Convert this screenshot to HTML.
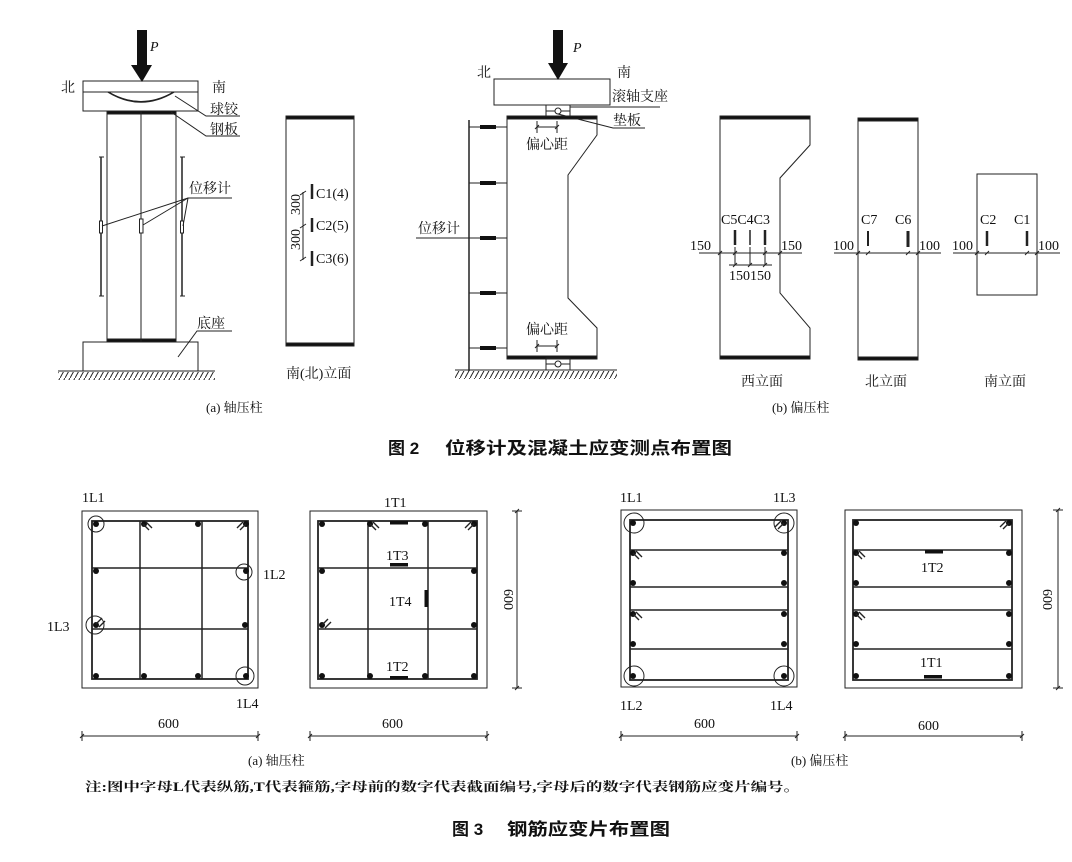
<!DOCTYPE html>
<html><head><meta charset="utf-8"><style>
html,body{margin:0;padding:0;background:#fff;}
svg{display:block;}
text{font-family:"Liberation Serif","Noto Serif CJK SC",serif;fill:#111;}
.cj{font-family:"Liberation Serif","Noto Serif CJK SC",serif;font-size:14px;}
.nm{font-family:"Liberation Serif",serif;font-size:14px;}
.tt{font-family:"Liberation Sans","Noto Sans CJK SC",sans-serif;font-weight:bold;font-size:17px;}
</style></head><body>
<svg width="1072" height="862" viewBox="0 0 1072 862" xmlns="http://www.w3.org/2000/svg">
<defs>
<pattern id="hat" width="5" height="9" patternUnits="userSpaceOnUse">
<line x1="5" y1="0" x2="0" y2="9" stroke="#222" stroke-width="1"/>
</pattern>
</defs>
<g stroke="#222" fill="none" stroke-width="1">
<polygon points="137,30 147,30 147,65 152,65 142,82 131,65 137,65" fill="#111" stroke="none"/>
<rect x="83" y="81" width="115" height="11"/>
<rect x="83" y="92" width="115" height="19"/>
<path d="M108,92 Q141,112 174,92" stroke-width="1.5"/>
<path d="M110,93 Q141,110 172,93"/>
<rect x="107" y="111" width="69" height="231"/>
<rect x="107" y="111" width="69" height="3" fill="#111"/>
<rect x="107" y="339" width="69" height="3" fill="#111"/>
<line x1="141" y1="111" x2="141" y2="342"/>
<rect x="83" y="342" width="115" height="29"/>
<line x1="58" y1="371" x2="215" y2="371"/>
<rect x="58" y="372" width="157" height="8" fill="url(#hat)" stroke="none"/>
<line x1="101" y1="157" x2="101" y2="296" stroke-width="1.5"/>
<line x1="99" y1="157" x2="104" y2="157"/><line x1="99" y1="296" x2="104" y2="296"/>
<line x1="182" y1="157" x2="182" y2="296" stroke-width="1.5"/>
<line x1="180" y1="157" x2="185" y2="157"/><line x1="180" y1="296" x2="185" y2="296"/>
<rect x="99.5" y="221" width="3" height="12" fill="#fff"/>
<rect x="139.5" y="219" width="3.5" height="14" fill="#fff"/>
<rect x="180.5" y="221" width="3" height="12" fill="#fff"/>
<polyline points="175,96 206,116 240,116"/>
<polyline points="171,112 206,136 240,136"/>
<polyline points="102,226 188,198 232,198"/>
<line x1="143" y1="225" x2="188" y2="198"/>
<line x1="183" y1="226" x2="188" y2="198"/>
<polyline points="178,357 197,331 232,331"/>
<rect x="286" y="117" width="68" height="228"/>
<rect x="286" y="116" width="68" height="3" fill="#111"/>
<rect x="286" y="343" width="68" height="3" fill="#111"/>
<line x1="303" y1="192" x2="303" y2="260"/>
<line x1="300" y1="195" x2="306" y2="191"/><line x1="300" y1="228" x2="306" y2="224"/><line x1="300" y1="261" x2="306" y2="257"/>
<line x1="312" y1="184" x2="312" y2="199" stroke-width="2.5"/>
<line x1="312" y1="218" x2="312" y2="232" stroke-width="2.5"/>
<line x1="312" y1="251" x2="312" y2="266" stroke-width="2.5"/>

<polygon points="553,30 563,30 563,63 568,63 558,80 548,63 553,63" fill="#111" stroke="none"/>
<rect x="494" y="79" width="116" height="26"/>
<rect x="546" y="105" width="24" height="12"/>
<line x1="546" y1="111" x2="570" y2="111"/>
<circle cx="558" cy="111" r="3" fill="#fff"/>
<line x1="570" y1="107" x2="660" y2="107"/>
<polyline points="558,114 613,128 645,128"/>
<path d="M507,117 L597,117 L597,135 L568,175 L568,298 L597,328 L597,358 L507,358 Z"/>
<rect x="507" y="116" width="90" height="3" fill="#111"/>
<rect x="507" y="356" width="90" height="3" fill="#111"/>
<rect x="546" y="358" width="24" height="12"/>
<line x1="546" y1="364" x2="570" y2="364"/>
<circle cx="558" cy="364" r="3" fill="#fff"/>
<line x1="537" y1="127" x2="557" y2="127"/>
<line x1="537" y1="121" x2="537" y2="133"/><line x1="557" y1="121" x2="557" y2="133"/>
<line x1="535" y1="129" x2="539" y2="125"/><line x1="555" y1="129" x2="559" y2="125"/>
<line x1="537" y1="346" x2="557" y2="346"/>
<line x1="537" y1="340" x2="537" y2="352"/><line x1="557" y1="340" x2="557" y2="352"/>
<line x1="535" y1="348" x2="539" y2="344"/><line x1="555" y1="348" x2="559" y2="344"/>
<line x1="469" y1="120" x2="469" y2="371" stroke-width="1.5"/>
<g>
<line x1="469" y1="127" x2="507" y2="127"/><rect x="480" y="125" width="16" height="4" fill="#111" stroke="none"/>
<line x1="469" y1="183" x2="507" y2="183"/><rect x="480" y="181" width="16" height="4" fill="#111" stroke="none"/>
<line x1="469" y1="238" x2="507" y2="238"/><rect x="480" y="236" width="16" height="4" fill="#111" stroke="none"/>
<line x1="469" y1="293" x2="507" y2="293"/><rect x="480" y="291" width="16" height="4" fill="#111" stroke="none"/>
<line x1="469" y1="348" x2="507" y2="348"/><rect x="480" y="346" width="16" height="4" fill="#111" stroke="none"/>
</g>
<line x1="416" y1="238" x2="469" y2="238"/>
<line x1="455" y1="370" x2="617" y2="370"/>
<rect x="455" y="371" width="162" height="8" fill="url(#hat)" stroke="none"/>

<path d="M720,117 L810,117 L810,145 L780,178 L780,293 L810,328 L810,358 L720,358 Z"/>
<rect x="720" y="116" width="90" height="3" fill="#111"/>
<rect x="720" y="356" width="90" height="3" fill="#111"/>
<line x1="735" y1="230" x2="735" y2="245" stroke-width="2.5"/>
<line x1="750" y1="230" x2="750" y2="245" stroke-width="1.5"/>
<line x1="765" y1="230" x2="765" y2="245" stroke-width="2.5"/>
<line x1="699" y1="253" x2="802" y2="253"/>
<line x1="718" y1="255" x2="722" y2="251"/><line x1="733" y1="255" x2="737" y2="251"/>
<line x1="763" y1="255" x2="767" y2="251"/><line x1="778" y1="255" x2="782" y2="251"/>
<line x1="729" y1="265" x2="772" y2="265"/>
<line x1="735" y1="247" x2="735" y2="265"/><line x1="750" y1="247" x2="750" y2="265"/><line x1="765" y1="247" x2="765" y2="265"/>
<line x1="733" y1="267" x2="737" y2="263"/><line x1="748" y1="267" x2="752" y2="263"/><line x1="763" y1="267" x2="767" y2="263"/>
<rect x="858" y="119" width="60" height="241"/>
<rect x="858" y="118" width="60" height="3" fill="#111"/>
<rect x="858" y="357" width="60" height="3" fill="#111"/>
<line x1="868" y1="231" x2="868" y2="246" stroke-width="2"/>
<line x1="908" y1="231" x2="908" y2="247" stroke-width="3"/>
<line x1="834" y1="253" x2="941" y2="253"/>
<line x1="856" y1="255" x2="860" y2="251"/><line x1="866" y1="255" x2="870" y2="251"/>
<line x1="906" y1="255" x2="910" y2="251"/><line x1="916" y1="255" x2="920" y2="251"/>
<rect x="977" y="174" width="60" height="121"/>
<line x1="987" y1="231" x2="987" y2="246" stroke-width="2.5"/>
<line x1="1027" y1="231" x2="1027" y2="246" stroke-width="2.5"/>
<line x1="953" y1="253" x2="1060" y2="253"/>
<line x1="975" y1="255" x2="979" y2="251"/><line x1="985" y1="255" x2="989" y2="251"/>
<line x1="1025" y1="255" x2="1029" y2="251"/><line x1="1035" y1="255" x2="1039" y2="251"/>

<rect x="82" y="511" width="176" height="177"/>
<rect x="92" y="521" width="156" height="158" stroke-width="1.8"/>
<line x1="140" y1="521" x2="140" y2="679" stroke-width="1.5"/>
<line x1="202" y1="521" x2="202" y2="679" stroke-width="1.5"/>
<line x1="92" y1="568" x2="248" y2="568" stroke-width="1.5"/>
<line x1="92" y1="629" x2="248" y2="629" stroke-width="1.5"/>
<g fill="#111" stroke="none">
<circle cx="96" cy="524" r="3"/><circle cx="144" cy="524" r="3"/><circle cx="198" cy="524" r="3"/><circle cx="246" cy="524" r="3"/>
<circle cx="96" cy="676" r="3"/><circle cx="144" cy="676" r="3"/><circle cx="198" cy="676" r="3"/><circle cx="246" cy="676" r="3"/>
<circle cx="96" cy="571" r="3"/><circle cx="246" cy="571" r="3"/><circle cx="96" cy="625" r="3"/><circle cx="245" cy="625" r="3"/>
</g>
<circle cx="96" cy="524" r="8"/><circle cx="244" cy="572" r="8"/><circle cx="95" cy="625" r="9"/><circle cx="245" cy="676" r="9"/>
<path d="M143,524 L149,530 M146,522 L152,528" stroke-width="1.4"/>
<path d="M246,524 L240,530 M243,522 L237,528" stroke-width="1.4"/>
<path d="M96,624 L102,618 M99,627 L105,621" stroke-width="1.4"/>
<line x1="82" y1="736" x2="258" y2="736"/>
<line x1="82" y1="731" x2="82" y2="741"/><line x1="258" y1="731" x2="258" y2="741"/>
<line x1="80" y1="738" x2="84" y2="734"/><line x1="256" y1="738" x2="260" y2="734"/>
<rect x="310" y="511" width="177" height="177"/>
<rect x="318" y="521" width="159" height="158" stroke-width="1.8"/>
<line x1="368" y1="521" x2="368" y2="679" stroke-width="1.5"/>
<line x1="428" y1="521" x2="428" y2="679" stroke-width="1.5"/>
<line x1="318" y1="568" x2="477" y2="568" stroke-width="1.5"/>
<line x1="318" y1="629" x2="477" y2="629" stroke-width="1.5"/>
<g fill="#111" stroke="none">
<circle cx="322" cy="524" r="3"/><circle cx="370" cy="524" r="3"/><circle cx="425" cy="524" r="3"/><circle cx="474" cy="524" r="3"/>
<circle cx="322" cy="676" r="3"/><circle cx="370" cy="676" r="3"/><circle cx="425" cy="676" r="3"/><circle cx="474" cy="676" r="3"/>
<circle cx="322" cy="571" r="3"/><circle cx="474" cy="571" r="3"/><circle cx="322" cy="625" r="3"/><circle cx="474" cy="625" r="3"/>
<rect x="390" y="521" width="18" height="3.5"/><rect x="390" y="563" width="18" height="3.5"/>
<rect x="424.5" y="590" width="3.5" height="17"/><rect x="390" y="676" width="18" height="3.5"/>
</g>
<path d="M370,524 L376,530 M373,522 L379,528" stroke-width="1.4"/>
<path d="M474,524 L468,530 M471,522 L465,528" stroke-width="1.4"/>
<path d="M322,625 L328,619 M325,628 L331,622" stroke-width="1.4"/>
<line x1="310" y1="736" x2="487" y2="736"/>
<line x1="310" y1="731" x2="310" y2="741"/><line x1="487" y1="731" x2="487" y2="741"/>
<line x1="308" y1="738" x2="312" y2="734"/><line x1="485" y1="738" x2="489" y2="734"/>
<line x1="517" y1="511" x2="517" y2="688"/>
<line x1="512" y1="511" x2="522" y2="511"/><line x1="512" y1="688" x2="522" y2="688"/>
<line x1="515" y1="513" x2="519" y2="509"/><line x1="515" y1="690" x2="519" y2="686"/>
<rect x="621" y="510" width="176" height="177"/>
<rect x="630" y="520" width="158" height="160" stroke-width="1.8"/>
<g stroke-width="1.5">
<line x1="630" y1="550" x2="788" y2="550"/><line x1="630" y1="587" x2="788" y2="587"/>
<line x1="630" y1="610" x2="788" y2="610"/><line x1="630" y1="649" x2="788" y2="649"/>
</g>
<g fill="#111" stroke="none">
<circle cx="633" cy="523" r="3"/><circle cx="784" cy="523" r="3"/>
<circle cx="633" cy="553" r="3"/><circle cx="784" cy="553" r="3"/>
<circle cx="633" cy="583" r="3"/><circle cx="784" cy="583" r="3"/>
<circle cx="633" cy="614" r="3"/><circle cx="784" cy="614" r="3"/>
<circle cx="633" cy="644" r="3"/><circle cx="784" cy="644" r="3"/>
<circle cx="633" cy="676" r="3"/><circle cx="784" cy="676" r="3"/>
</g>
<circle cx="634" cy="523" r="10"/><circle cx="784" cy="523" r="10"/><circle cx="634" cy="676" r="10"/><circle cx="784" cy="676" r="10"/>
<path d="M784,523 L778,529 M781,521 L775,527" stroke-width="1.4"/>
<path d="M633,553 L639,559 M636,551 L642,557" stroke-width="1.4"/>
<path d="M633,614 L639,620 M636,612 L642,618" stroke-width="1.4"/>
<line x1="621" y1="736" x2="797" y2="736"/>
<line x1="621" y1="731" x2="621" y2="741"/><line x1="797" y1="731" x2="797" y2="741"/>
<line x1="619" y1="738" x2="623" y2="734"/><line x1="795" y1="738" x2="799" y2="734"/>
<rect x="845" y="510" width="177" height="178"/>
<rect x="853" y="520" width="159" height="160" stroke-width="1.8"/>
<g stroke-width="1.5">
<line x1="853" y1="550" x2="1012" y2="550"/><line x1="853" y1="587" x2="1012" y2="587"/>
<line x1="853" y1="610" x2="1012" y2="610"/><line x1="853" y1="649" x2="1012" y2="649"/>
</g>
<g fill="#111" stroke="none">
<circle cx="856" cy="523" r="3"/><circle cx="1009" cy="523" r="3"/>
<circle cx="856" cy="553" r="3"/><circle cx="1009" cy="553" r="3"/>
<circle cx="856" cy="583" r="3"/><circle cx="1009" cy="583" r="3"/>
<circle cx="856" cy="614" r="3"/><circle cx="1009" cy="614" r="3"/>
<circle cx="856" cy="644" r="3"/><circle cx="1009" cy="644" r="3"/>
<circle cx="856" cy="676" r="3"/><circle cx="1009" cy="676" r="3"/>
<rect x="925" y="550" width="18" height="3.5"/><rect x="924" y="675" width="18" height="3.5"/>
</g>
<path d="M1009,523 L1003,529 M1006,521 L1000,527" stroke-width="1.4"/>
<path d="M856,553 L862,559 M859,551 L865,557" stroke-width="1.4"/>
<path d="M856,614 L862,620 M859,612 L865,618" stroke-width="1.4"/>
<line x1="845" y1="736" x2="1022" y2="736"/>
<line x1="845" y1="731" x2="845" y2="741"/><line x1="1022" y1="731" x2="1022" y2="741"/>
<line x1="843" y1="738" x2="847" y2="734"/><line x1="1020" y1="738" x2="1024" y2="734"/>
<line x1="1058" y1="510" x2="1058" y2="688"/>
<line x1="1053" y1="510" x2="1063" y2="510"/><line x1="1053" y1="688" x2="1063" y2="688"/>
<line x1="1056" y1="512" x2="1060" y2="508"/><line x1="1056" y1="690" x2="1060" y2="686"/>
</g>

<g class="cj">
<text x="150" y="51" font-style="italic" class="nm">P</text>
<text x="61" y="92">北</text><text x="212" y="92">南</text>
<text x="210" y="114">球铰</text><text x="210" y="134">钢板</text>
<text x="189" y="193">位移计</text>
<text x="197" y="328">底座</text>
<text x="316" y="198" class="nm">C1(4)</text>
<text x="316" y="230" class="nm">C2(5)</text>
<text x="316" y="263" class="nm">C3(6)</text>
<text transform="translate(300,215) rotate(-90)" class="nm">300</text>
<text transform="translate(300,250) rotate(-90)" class="nm">300</text>
<text x="286" y="378">南(北)立面</text>
<text x="206" y="412" font-size="13">(a) 轴压柱</text>

<text x="573" y="52" font-style="italic" class="nm">P</text>
<text x="477" y="77">北</text><text x="617" y="77">南</text>
<text x="612" y="101">滚轴支座</text>
<text x="613" y="125">垫板</text>
<text x="526" y="149">偏心距</text>
<text x="526" y="334">偏心距</text>
<text x="418" y="233">位移计</text>

<text x="721" y="224" class="nm">C5C4C3</text>
<text x="690" y="250" class="nm">150</text><text x="781" y="250" class="nm">150</text>
<text x="729" y="280" class="nm">150150</text>
<text x="861" y="224" class="nm">C7</text><text x="895" y="224" class="nm">C6</text>
<text x="833" y="250" class="nm">100</text><text x="919" y="250" class="nm">100</text>
<text x="980" y="224" class="nm">C2</text><text x="1014" y="224" class="nm">C1</text>
<text x="952" y="250" class="nm">100</text><text x="1038" y="250" class="nm">100</text>
<text x="741" y="386">西立面</text><text x="865" y="386">北立面</text><text x="984" y="386">南立面</text>
<text x="772" y="412" font-size="13">(b) 偏压柱</text>

<text x="388" y="454" class="tt">图 2</text>
<text x="445" y="454" class="tt" textLength="287" lengthAdjust="spacingAndGlyphs">位移计及混凝土应变测点布置图</text>

<text x="82" y="502" class="nm" font-size="13">1L1</text>
<text x="263" y="579" class="nm" font-size="13">1L2</text>
<text x="47" y="631" class="nm" font-size="13">1L3</text>
<text x="236" y="708" class="nm" font-size="13">1L4</text>
<text x="158" y="728" class="nm" font-size="13">600</text>
<text x="384" y="507" class="nm" font-size="13">1T1</text>
<text x="386" y="560" class="nm" font-size="13">1T3</text>
<text x="389" y="606" class="nm" font-size="13">1T4</text>
<text x="386" y="671" class="nm" font-size="13">1T2</text>
<text x="382" y="728" class="nm" font-size="13">600</text>
<text transform="translate(504,589) rotate(90)" class="nm" font-size="13">600</text>
<text x="248" y="765" font-size="13">(a) 轴压柱</text>

<text x="620" y="502" class="nm" font-size="13">1L1</text>
<text x="773" y="502" class="nm" font-size="13">1L3</text>
<text x="620" y="710" class="nm" font-size="13">1L2</text>
<text x="770" y="710" class="nm" font-size="13">1L4</text>
<text x="694" y="728" class="nm" font-size="13">600</text>
<text x="921" y="572" class="nm" font-size="13">1T2</text>
<text x="920" y="667" class="nm" font-size="13">1T1</text>
<text x="918" y="730" class="nm" font-size="13">600</text>
<text transform="translate(1043,589) rotate(90)" class="nm" font-size="13">600</text>
<text x="791" y="765" font-size="13">(b) 偏压柱</text>

<text x="85" y="791" font-size="12.5" font-weight="bold" textLength="715" lengthAdjust="spacingAndGlyphs">注:图中字母L代表纵筋,T代表箍筋,字母前的数字代表截面编号,字母后的数字代表钢筋应变片编号。</text>
<text x="452" y="835" class="tt" font-size="19">图 3</text>
<text x="507" y="835" class="tt" font-size="19" textLength="163" lengthAdjust="spacingAndGlyphs">钢筋应变片布置图</text>
</g>
</svg>
</body></html>
